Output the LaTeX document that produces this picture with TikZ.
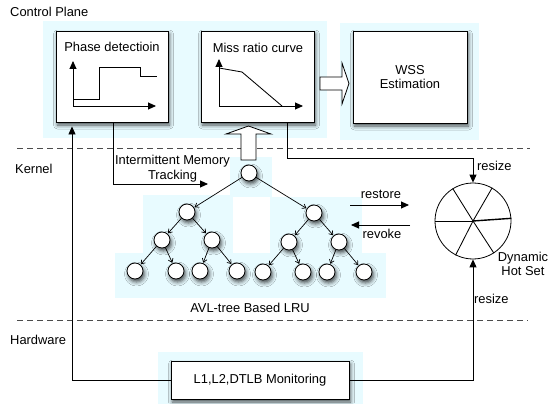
\documentclass[tikz,border=0pt]{standalone}
\usepackage{fontspec}
\setmainfont{Liberation Sans}
\usetikzlibrary{arrows.meta,shadows.blur}
\definecolor{bgcyan}{RGB}{232,251,255}
\begin{document}
\begin{tikzpicture}[x=1pt,y=-1pt,
  every node/.style={font=\fontsize{12.9}{14.5}\selectfont, inner sep=0pt},
  shadowed/.style={blur shadow={shadow xshift=1.5pt, shadow yshift=-3pt, shadow blur radius=4pt, shadow opacity=70}},
  panel/.style={draw, fill=white, line width=0.9pt, shadowed},
  tnode/.style={circle, draw, fill=white, line width=0.8pt, minimum size=16pt, shadowed},
  tedge/.style={line width=0.7pt, -{Straight Barb[length=3.5pt,width=5pt]}, shorten >=0.5pt},
  conn/.style={line width=0.85pt},
  arr/.style={line width=0.85pt, -{Triangle[length=8pt,width=7pt]}},
  hollow/.style={draw, fill=white, line width=0.8pt},
  sep/.style={line width=0.8pt, black!70, dash pattern=on 6pt off 4pt},
  bg/.style={fill=bgcyan, draw=none}
]
\useasboundingbox (0,0) rectangle (550,404);

% backgrounds
\fill[bg] (43,21) rectangle (327,138);
\fill[bg] (340,23) rectangle (479,140);
\fill[bg] (230,157) rectangle (272,197);
\fill[bg] (143,195) rectangle (233,253);
\fill[bg] (270,197) rectangle (362,253);
\fill[bg] (115,253) rectangle (386,298);
\fill[bg] (158,352) rectangle (363,404);

% layer separators and labels
\draw[sep] (17,148) -- (530,148);
\draw[sep] (17,320) -- (528,320);
\node[anchor=west] (cp) at (10,12) {Control Plane};
\node[anchor=west] (kern) at (15,169) {Kernel};
\node[anchor=west] (hw) at (10,340) {Hardware};

% control plane boxes
\node[panel, minimum width=112pt, minimum height=91pt] (phase) at (112,76.5) {};
\node (phaset) at (112,47) {Phase detectioin};
\node[panel, minimum width=113pt, minimum height=91pt] (miss) at (257.5,76.5) {};
\node (misst) at (258,48) {Miss ratio curve};
\node[panel, minimum width=114pt, minimum height=92pt, align=center] (wss) at (410,77) {WSS\\Estimation};

% phase graph
\draw[arr] (73,106) -- (73,61);
\draw[arr] (73,106) -- (156,106);
\draw[conn] (73,99) -- (99,99) -- (99,67) -- (140,67) -- (140,76) -- (157,76);

% miss ratio graph
\draw[arr] (219,106) -- (219,59);
\draw[arr] (219,106) -- (303,106);
\draw[conn] (219,68) -- (242,72) -- (282,106);

% hollow arrows
\draw[hollow] (320,77) -- (342,77) -- (342,63) -- (349,83.5) -- (342,104) -- (342,90) -- (320,90) -- cycle;
\draw[hollow] (241,160) -- (241,134) -- (226,134) -- (248.5,126) -- (271,134) -- (256,134) -- (256,160) -- cycle;

% AVL tree
\node[tnode] (r0) at (249,173) {};
\node[tnode] (a1) at (187,212) {};
\node[tnode] (a2) at (314,213) {};
\node[tnode] (b1) at (162,240) {};
\node[tnode] (b2) at (212,240) {};
\node[tnode] (b3) at (289,242) {};
\node[tnode] (b4) at (339,242) {};
\node[tnode] (c1) at (135,271) {};
\node[tnode] (c2) at (176,271) {};
\node[tnode] (c3) at (200,271) {};
\node[tnode] (c4) at (237,271) {};
\node[tnode] (c5) at (263,272) {};
\node[tnode] (c6) at (303,272) {};
\node[tnode] (c7) at (327,272) {};
\node[tnode] (c8) at (364,272) {};
\draw[tedge] (r0) -- (a1);
\draw[tedge] (r0) -- (a2);
\draw[tedge] (a1) -- (b1);
\draw[tedge] (a1) -- (b2);
\draw[tedge] (a2) -- (b3);
\draw[tedge] (a2) -- (b4);
\draw[tedge] (b1) -- (c1);
\draw[tedge] (b1) -- (c2);
\draw[tedge] (b2) -- (c3);
\draw[tedge] (b2) -- (c4);
\draw[tedge] (b3) -- (c5);
\draw[tedge] (b3) -- (c6);
\draw[tedge] (b4) -- (c7);
\draw[tedge] (b4) -- (c8);
\node (avl) at (250,308) {AVL-tree Based LRU};

% intermittent memory tracking
\coordinate (imt) at (208,184);
\draw[arr] ([xshift=1pt]phase.south) |- (imt);
\node[align=center] (imtt) at (172.5,168.5) {Intermittent Memory\\Tracking};

% dynamic hot set
\node[circle, draw, line width=0.8pt, minimum size=76pt] (hot) at (473,221) {};
\draw[conn] (hot.center) -- (hot.60);
\draw[conn] (hot.center) -- (hot.122);
\draw[conn] (hot.center) -- (hot.180);
\draw[conn] (hot.center) -- (hot.243);
\draw[conn] (hot.center) -- (hot.303);
\draw[line width=1.4pt] (hot.center) -- (hot.4);
\node[align=center] (hott) at (523,264) {Dynamic\\Hot Set};

% restore / revoke
\coordinate (rs1) at (350,205);
\coordinate (rs2) at (409,205);
\coordinate (rv1) at (410,225);
\coordinate (rv2) at (351,225);
\draw[arr] (rs1) -- (rs2);
\draw[arr] (rv1) -- (rv2);
\node (restore) at (381,194) {restore};
\node (revoke) at (382,234) {revoke};

% resize from miss ratio curve
\draw[arr] ([xshift=29.5pt]miss.south) -- ++(0,36) -| (hot.north);
\node[anchor=west] (rz1) at (477,166) {resize};

% hardware monitoring
\node[panel, minimum width=178pt, minimum height=38pt] (l1) at (260,380) {L1,L2,DTLB Monitoring};
\draw[arr] (l1.west) -| ([xshift=-40pt,yshift=-4pt]phase.south);
\draw[arr] (l1.east) -| (hot.south);
\node[anchor=west] (rz2) at (474,299) {resize};
\end{tikzpicture}
\end{document}
